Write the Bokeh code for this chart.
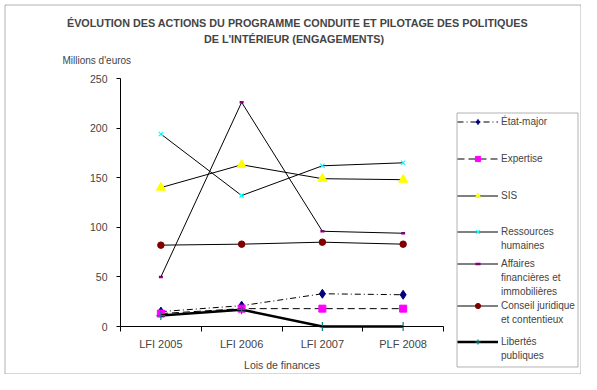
import numpy as np
from bokeh.plotting import figure
from bokeh.models import (Range1d, FixedTicker, Legend, LegendItem, LinearAxis,
                          Label, BoxAnnotation)
from bokeh.embed import file_html
from bokeh.resources import INLINE

# ---- data ----
categories = ["LFI 2005", "LFI 2006", "LFI 2007", "PLF 2008"]
etat_major = [15, 21, 33, 32]
expertise = [13, 18, 18, 18]
sis = [140, 163, 149, 148]
ressources = [194, 132, 162, 165]
affaires = [50, 226, 96, 94]
conseil = [82, 83, 85, 83]
libertes = [11, 17, 0, 0]
y_ticks = [0, 50, 100, 150, 200, 250]
Y_MAX = 250

FONT = "Liberation Sans"
W, H = 581, 374
# plot area in canvas pixels
PL, PT, PW, PH = 120, 78, 323, 248
n = len(categories)

def fy(cy):  # canvas y (down) -> frame screen y (up)
    return H - cy

x = list(np.arange(n) + 0.5)
xs = n / PW
ys = Y_MAX / PH
x_range = Range1d(-PL * xs, n + (W - PL - PW) * xs)
y_range = Range1d(-(H - PT - PH) * ys, Y_MAX + PT * ys)

p = figure(width=W, height=H, output_backend="svg", toolbar_location=None,
           x_range=x_range, y_range=y_range,
           x_axis_location=None, y_axis_location=None,
           min_border=0, background_fill_color="white",
           border_fill_color="white", outline_line_color=None)
p.grid.visible = False

xaxis = LinearAxis(ticker=FixedTicker(ticks=x, minor_ticks=list(range(n + 1))),
                   major_label_overrides={v: c for v, c in zip(x, categories)},
                   fixed_location=0, bounds=(0, n),
                   major_tick_out=0, major_tick_in=0, minor_tick_out=5, minor_tick_in=0,
                   major_label_standoff=6, axis_label="Lois de finances",
                   axis_label_standoff=6, axis_label_text_font_style="normal",
                   axis_label_text_font=FONT, axis_label_text_font_size="10.5px",
                   major_label_text_font=FONT, major_label_text_font_size="11px",
                   axis_line_color="black", minor_tick_line_color="black")
p.add_layout(xaxis, "below")
yaxis = LinearAxis(ticker=FixedTicker(ticks=y_ticks), fixed_location=0, bounds=(0, Y_MAX),
                   major_tick_out=4, major_tick_in=0,
                   minor_tick_out=0, minor_tick_in=0, major_label_standoff=9,
                   major_label_text_font=FONT, major_label_text_font_size="10.5px",
                   axis_line_color="black", major_tick_line_color="black")
p.add_layout(yaxis, "left")

r_em_l = p.line(x, etat_major, line_color="black", line_width=1, line_dash="6 3 1 3")
r_em_m = p.scatter(x, etat_major, marker="diamond", size=9, fill_color="#000080", line_color="#000080")
r_ex_l = p.line(x, expertise, line_color="black", line_width=1, line_dash="7 4")
r_ex_m = p.scatter(x, expertise, marker="square", size=7, fill_color="#FF00FF", line_color="#FF00FF")
r_sis_l = p.line(x, sis, line_color="black", line_width=1)
r_sis_m = p.scatter(x, sis, marker="triangle", size=9, fill_color="#FFFF00", line_color="#FFFF00")
r_rh_l = p.line(x, ressources, line_color="black", line_width=1)
r_rh_m = p.scatter(x, ressources, marker="x", size=6, line_color="#00FFFF", line_width=1.2)
r_af_l = p.line(x, affaires, line_color="black", line_width=1)
r_af_m = p.scatter(x, affaires, marker="dash", size=4, line_color="#800080", line_width=2.5)
r_cj_l = p.line(x, conseil, line_color="black", line_width=1)
r_cj_m = p.scatter(x, conseil, marker="circle", size=6.5, fill_color="#800000", line_color="#800000")
r_lp_l = p.line(x, libertes, line_color="black", line_width=2.5)
r_lp_m = p.scatter(x, libertes, marker="cross", size=9, line_color="#008080", line_width=1.2)
blank = p.line([], [], line_alpha=0)   # for continuation lines of legend labels

# outer border and legend border
p.add_layout(BoxAnnotation(left=4.5, right=W - 0.5, top=fy(4.5), bottom=0.5,
                           left_units="screen", right_units="screen",
                           top_units="screen", bottom_units="screen",
                           fill_color=None, line_color="black", line_width=1))
LG_L, LG_R, LG_T, LG_B = 456, 577, 112, 366
p.add_layout(BoxAnnotation(left=LG_L + 0.5, right=LG_R + 0.5, top=fy(LG_T) - 0.5,
                           bottom=fy(LG_B) - 0.5,
                           left_units="screen", right_units="screen",
                           top_units="screen", bottom_units="screen",
                           fill_color=None, line_color="black", line_width=1))

common = dict(border_line_color=None, background_fill_alpha=0, padding=0, margin=0,
              glyph_width=41, label_standoff=3, label_text_font=FONT,
              label_text_font_size="10px", glyph_height=13, label_height=13)
GX = LG_L + 1

def add_legend(entries, top, spacing):
    items = [LegendItem(label=lab, renderers=rs) for lab, rs in entries]
    h = len(items) * 13 + (len(items) - 1) * spacing
    p.add_layout(Legend(items=items, location=(GX, fy(top + h)), spacing=spacing, **common),
                 "center")

add_legend([("État-major", [r_em_l, r_em_m]),
            ("Expertise", [r_ex_l, r_ex_m]),
            ("SIS", [r_sis_l, r_sis_m])], 115, 24)
add_legend([("Ressources", [r_rh_l, r_rh_m]),
            ("humaines", [blank])], 225, 1)
add_legend([("Affaires", [r_af_l, r_af_m]),
            ("financières et", [blank]),
            ("immobilières", [blank]),
            ("Conseil juridique", [r_cj_l, r_cj_m]),
            ("et contentieux", [blank])], 256.5, 1)
add_legend([("Libertés", [r_lp_l, r_lp_m]),
            ("publiques", [blank])], 334.5, 1)

p.add_layout(Label(x=297, y=fy(22.3), x_units="screen", y_units="screen",
                   text="ÉVOLUTION DES ACTIONS DU PROGRAMME CONDUITE ET PILOTAGE DES POLITIQUES",
                   text_font=FONT, text_font_size="10.8px", text_font_style="bold",
                   text_align="center", text_baseline="middle"))
p.add_layout(Label(x=293.5, y=fy(38.5), x_units="screen", y_units="screen",
                   text="DE L'INTÉRIEUR (ENGAGEMENTS)",
                   text_font=FONT, text_font_size="10.8px", text_font_style="bold",
                   text_align="center", text_baseline="middle"))
p.add_layout(Label(x=62, y=fy(59.5), x_units="screen", y_units="screen",
                   text="Millions d'euros", text_font=FONT, text_font_size="10px",
                   text_align="left", text_baseline="middle"))

open("out.html", "w").write(file_html(p, INLINE))
